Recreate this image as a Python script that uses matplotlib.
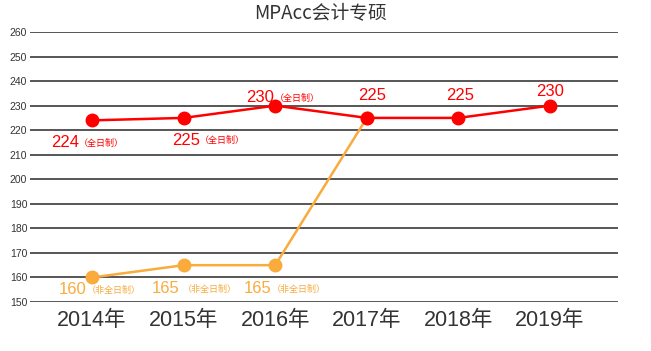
import matplotlib.pyplot as plt

years = ['2014年', '2015年', '2016年', '2017年', '2018年', '2019年']
full_time = [224, 225, 230, 225, 225, 230]
part_time = [160, 165, 165, 225]
full_labels = ['224', '225', '230', '225', '225', '230']
full_suffix = ['（全日制）', '（全日制）', '（全日制）', '', '', '']
part_labels = ['160', '165', '165']
part_suffix = ['（非全日制）', '（非全日制）', '（非全日制）']
yticks = list(range(150, 261, 10))

red = '#ff0000'
orange = '#f9ab3c'
fam = ['Liberation Sans', 'Noto Sans CJK SC']

fig = plt.figure(figsize=(6.51, 3.51), dpi=100)
ax = fig.add_axes([30 / 651, 1 - 302 / 351, 588 / 651, 270 / 351])

x_full = list(range(len(full_time)))
x_part = list(range(len(part_time)))

for t in yticks:
    ax.axhline(t, color='#3a3a3a', lw=1.2, zorder=1)

ax.plot(x_part, part_time, color=orange, lw=1.8, marker='o', ms=9, zorder=3)
ax.plot(x_full, full_time, color=red, lw=1.8, marker='o', ms=9, zorder=4)

ax.set_xlim(-0.678, 5.743)
ax.set_ylim(150, 260)
ax.set_yticks(yticks)
ax.set_yticklabels([str(t) for t in yticks], fontsize=7.5, color='#333333', family=fam)
ax.set_xticks(x_full)
ax.set_xticklabels(years, fontsize=15.5, color='#333333', family=fam)
ax.tick_params(axis='y', length=0, pad=2)
ax.tick_params(axis='x', length=0, pad=6)
for s in ax.spines.values():
    s.set_visible(False)

# value labels (pixel offsets from each point)
full_num_off = [(-27, -22), (2, -23), (-15, 8), (5, 22), (2, 22), (0, 14)]
full_suf_off = [(-13, -23), (16, -23), (0, 7), None, None, None]
for i, v in enumerate(full_time):
    ax.annotate(full_labels[i], (i, v), xytext=full_num_off[i], textcoords='offset pixels',
                ha='center', va='center', color=red, fontsize=12, family=fam)
    if full_suf_off[i]:
        ax.annotate(full_suffix[i], (i, v), xytext=full_suf_off[i], textcoords='offset pixels',
                    ha='left', va='center', color=red, fontsize=6.5, family=fam)

part_num_off = [(-19, -12), (-18, -23), (-18, -23)]
part_suf_off = [(-5, -13), (-1, -24), (-3, -24)]
for i in range(len(part_labels)):
    v = part_time[i]
    ax.annotate(part_labels[i], (i, v), xytext=part_num_off[i], textcoords='offset pixels',
                ha='center', va='center', color=orange, fontsize=12, family=fam)
    ax.annotate(part_suffix[i], (i, v), xytext=part_suf_off[i], textcoords='offset pixels',
                ha='left', va='center', color=orange, fontsize=6.5, family=fam)

fig.text(321 / 651, 1 - 14 / 351, 'MPAcc会计专硕', ha='center', va='center',
         fontsize=13.5, color='#333333', family=['Noto Sans CJK SC', 'DejaVu Sans'])

fig.savefig('out.png', dpi=100)
